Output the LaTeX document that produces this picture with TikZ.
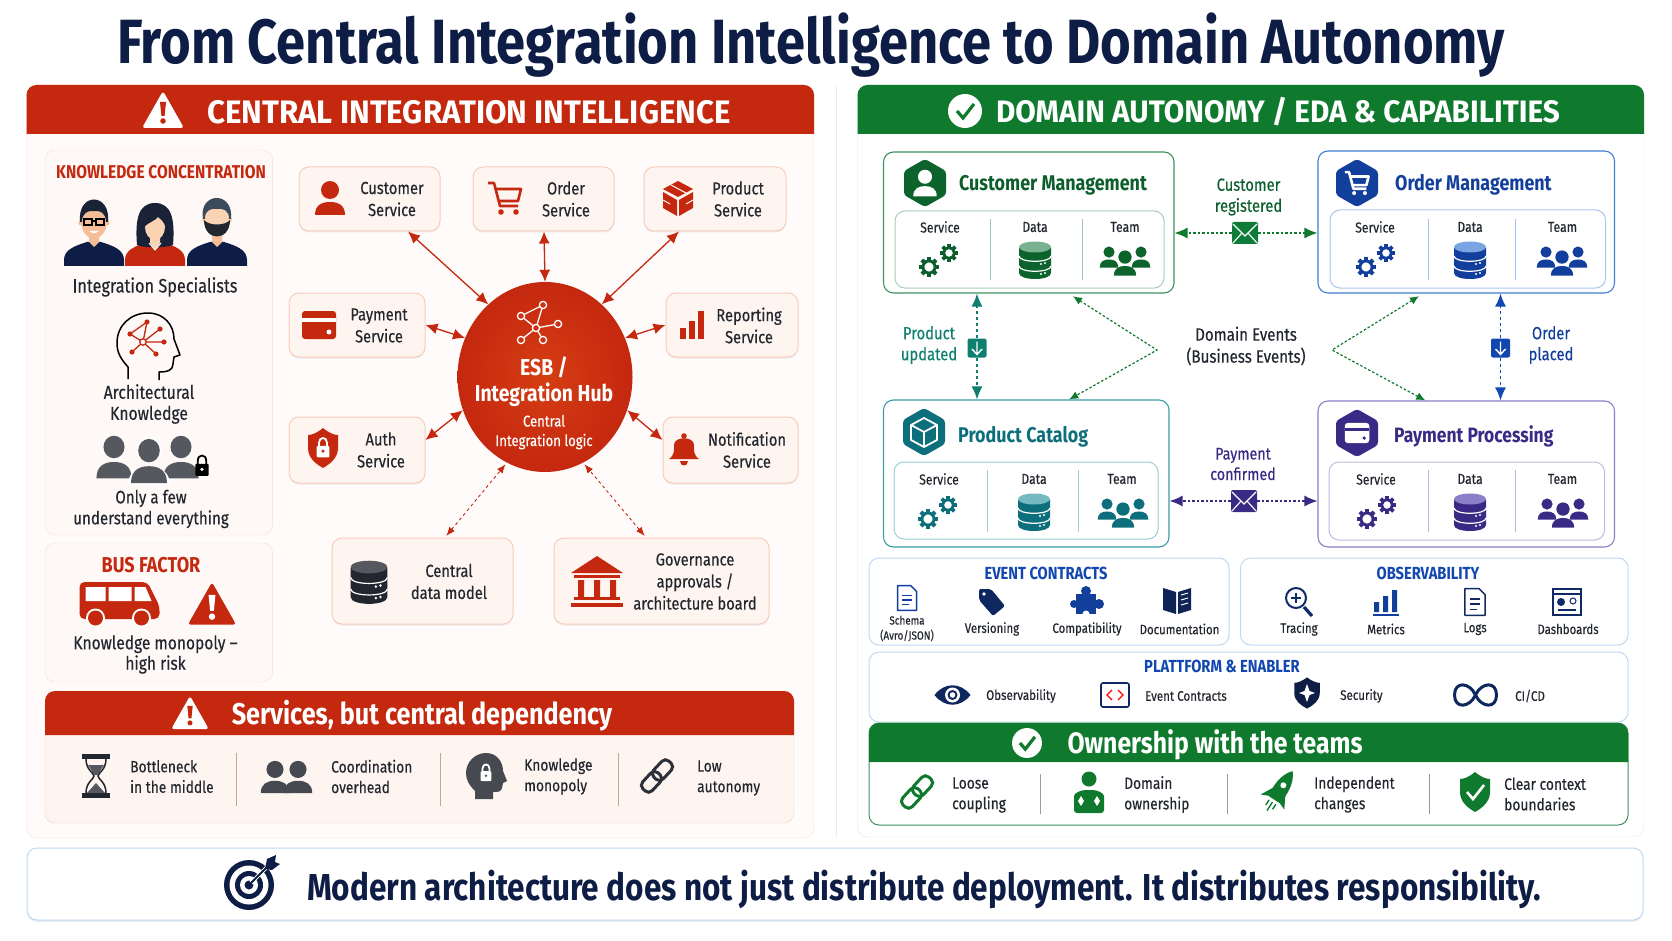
\documentclass[tikz,border=0pt]{standalone}
\usepackage{fontspec}
\setmainfont{Fira Sans}[FakeStretch=0.84, UprightFeatures={FakeBold=0.3}]
\newfontfamily\headface{Fira Sans}[FakeStretch=0.96]
\usepackage{tikz}
\usetikzlibrary{shapes.geometric, arrows.meta, positioning, calc, shadows}

\definecolor{headred}{HTML}{C4280F}
\definecolor{hubred}{HTML}{CE3216}
\definecolor{softred}{HTML}{F9CDBB}
\definecolor{tintred}{HTML}{FEF5F0}
\definecolor{headgreen}{HTML}{0F7A2E}
\definecolor{darkgreen}{HTML}{0C5F2C}
\definecolor{softgreen}{HTML}{D5ECDC}
\definecolor{cardgreen}{HTML}{3F9160}
\definecolor{cardblue}{HTML}{3F7FD6}
\definecolor{cardteal}{HTML}{3A9DA6}
\definecolor{cardpurple}{HTML}{8C7FC9}
\definecolor{deepblue}{HTML}{123E9C}
\definecolor{brightblue}{HTML}{1247B0}
\definecolor{deepteal}{HTML}{0E6F7C}
\definecolor{tealgreen}{HTML}{0F7F70}
\definecolor{deeppurple}{HTML}{3A2A86}
\definecolor{navy}{HTML}{0E1D45}
\definecolor{inkgray}{HTML}{22262E}
\definecolor{stone}{HTML}{55595F}
\definecolor{softblue}{HTML}{BFD9F2}
\definecolor{skin}{HTML}{F6BE98}
\definecolor{paleskin}{HTML}{FAD3B5}
\definecolor{hairgray}{HTML}{3C4A5C}

% Icons, drawn round (0,0) in reference pixels
\tikzset{
  warnsign/.pic={
    \fill[rounded corners=3pt] (0,-19) -- (21,18) -- (-21,18) -- cycle;
    \fill[#1] (-3,-8) -- (3,-8) -- (1.6,6) -- (-1.6,6) -- cycle;
    \fill[#1] (0,11) circle (2.8pt);},
  checkcircle/.pic={
    \fill (0,0) circle (17pt);
    \draw[#1, line width=3.2pt] (-8,0) -- (-2,7) -- (9,-7);},
  userglyph/.pic={
    \fill (0,-8) circle (9pt);
    \fill (-15,17) .. controls (-15,7) and (-8,4) .. (0,4) .. controls (8,4) and (15,7) .. (15,17) -- cycle;},
  teamgroup/.pic={
    \pic[scale=.62] at (-16,-3) {userglyph};
    \pic[scale=.62] at (16,-3) {userglyph};
    \pic[white, scale=.9] at (0,3) {userglyph};
    \pic[scale=.74] at (0,3) {userglyph};},
  gearwheel/.pic={
    \draw[line width=2.8pt] (0,0) circle (6pt);
    \foreach \a in {0,45,...,315}
      \fill[rotate=\a] (-2,-10) rectangle (2,-6);},
  gears/.pic={
    \pic at (-10,7) {gearwheel};
    \pic[scale=.9] at (10,-7) {gearwheel};},
  dbstack/.pic={
    \fill (-16,-12) -- (-16,13) .. controls (-16,21) and (16,21) .. (16,13) -- (16,-12) -- cycle;
    \fill[#1] (0,-13) ellipse (16pt and 5.5pt);
    \draw[white, line width=1.2pt] (-16,-4) .. controls (-16,3) and (16,3) .. (16,-4);
    \draw[white, line width=1.2pt] (-16,6) .. controls (-16,13) and (16,13) .. (16,6);
    \fill[white] (10,3) circle (1.2pt) (6,4) circle (1.2pt);
    \fill[white] (10,13) circle (1.2pt) (6,14) circle (1.2pt);},
  cartglyph/.pic={
    \draw[line width=2.6pt, line join=round] (-17,-15) -- (-11,-15) -- (-5,8) -- (13,8);
    \draw[line width=2.6pt, line join=round] (-10,-9) -- (16,-9) -- (13,3) -- (-7,3);
    \fill (-4,14) circle (2.8pt) (11,14) circle (2.8pt);},
  cubeglyph/.pic={
    \fill (0,-17) -- (15,-9) -- (0,-1) -- (-15,-9) -- cycle;
    \fill (-15,-6) -- (-1,2) -- (-1,18) -- (-15,10) -- cycle;
    \fill (15,-6) -- (1,2) -- (1,18) -- (15,10) -- cycle;
    \draw[white, line width=1pt] (-15,2) -- (-8,6) (15,2) -- (8,6) (-7,-13) -- (8,-5);},
  cubeline/.pic={
    \draw[line width=1.8pt, line join=round] (0,-14) -- (13,-7) -- (13,8) -- (0,15) -- (-13,8) -- (-13,-7) -- cycle;
    \draw[line width=1.8pt, line join=round] (-13,-7) -- (0,0) -- (13,-7) (0,0) -- (0,15);},
  cardglyph/.pic={
    \fill[rounded corners=3pt] (-17,-14) rectangle (17,14);
    \fill[#1] (-17,-7) rectangle (17,-3);
    \fill[#1] (10,7) circle (2.5pt);},
  barsglyph/.pic={
    \fill (-12,14) rectangle (-6,3);
    \fill (-3,14) rectangle (3,-4);
    \fill (6,14) rectangle (12,-14);},
  shieldform/.pic={
    \fill (0,-20) .. controls (-6,-15) and (-11,-13) .. (-15,-13) -- (-15,0) .. controls (-15,10) and (-7,16) .. (0,20) .. controls (7,16) and (15,10) .. (15,0) -- (15,-13) .. controls (11,-13) and (6,-15) .. (0,-20) -- cycle;},
  lockglyph/.pic={
    \fill[rounded corners=1pt] (-6,-2) rectangle (6,9);
    \draw[line width=1.8pt] (-3.8,-2) -- (-3.8,-5) .. controls (-3.8,-11) and (3.8,-11) .. (3.8,-5) -- (3.8,-2);
    \fill[#1] (0,3) circle (1.6pt);},
  bellglyph/.pic={
    \fill (0,-13) circle (2.8pt);
    \fill (-15,10) .. controls (-9,6) and (-10,0) .. (-10,-4) .. controls (-10,-13) and (10,-13) .. (10,-4) .. controls (10,0) and (9,6) .. (15,10) -- cycle;
    \fill (-4,12) .. controls (-4,18) and (4,18) .. (4,12) -- cycle;},
  templeglyph/.pic={
    \fill (0,-26) -- (26,-9) -- (-26,-9) -- cycle;
    \fill (-23,-7) rectangle (23,-4);
    \fill (-19,-2) rectangle (-13,15) (-3,-2) rectangle (3,15) (13,-2) rectangle (19,15);
    \fill (-23,15) rectangle (23,18);
    \fill (-26,21) rectangle (26,25);},
  busglyph/.pic={
    \fill[rounded corners=5pt] (-40,-22) -- (28,-22) -- (40,2) -- (40,15) -- (-40,15) -- cycle;
    \fill[white] (-34,-17) rectangle (-14,-3) (-11,-17) rectangle (12,-3);
    \fill[white] (15,-17) -- (26,-17) -- (32,-3) -- (15,-3) -- cycle;
    \fill[white] (-24,14) circle (9.5pt) (22,14) circle (9.5pt);
    \fill (-24,14) circle (7.5pt) (22,14) circle (7.5pt);},
  hourglass/.pic={
    \fill (-14,-22) rectangle (14,-17);
    \fill (-14,17) rectangle (14,22);
    \draw[line width=1.5pt] (-10,-17) .. controls (-10,-6) and (-2,-3) .. (-2,0) .. controls (-2,3) and (-10,6) .. (-10,17);
    \draw[line width=1.5pt] (10,-17) .. controls (10,-6) and (2,-3) .. (2,0) .. controls (2,3) and (10,6) .. (10,17);
    \fill[stone] (-8,-11) -- (8,-11) -- (1.5,-1) -- (-1.5,-1) -- cycle;
    \fill[stone] (-9,17) -- (0,7) -- (9,17) -- cycle;},
  headlock/.pic={
    \fill (-11,23) -- (-11,15) .. controls (-17,9) and (-20,4) .. (-20,-3) .. controls (-20,-14) and (-11,-23) .. (0,-23) .. controls (11,-23) and (17,-14) .. (17,-5) -- (21,5) -- (17,7) -- (16,12) .. controls (15,16) and (12,16) .. (7,16) -- (7,23) -- cycle;
    \pic[white, scale=.9] at (0,-3) {lockglyph=stone};},
  chainlink/.pic={
    \draw[line width=3pt, rounded corners=5pt, rotate=47] (-19,-6.5) rectangle (3,6.5);
    \draw[line width=3pt, rounded corners=5pt, rotate=47] (-3,-6.5) rectangle (19,6.5);},
  hexbadge/.pic={
    \fill[rounded corners=3pt] (0,-24) -- (21,-12) -- (21,12) -- (0,24) -- (-21,12) -- (-21,-12) -- cycle;},
  envlines/.pic={
    \draw[white, line width=1.1pt] (-12,-9) -- (0,3) -- (12,-9) (-12,10) -- (-3,0) (12,10) -- (3,0);},
  downglyph/.pic={
    \draw[white, line width=1.4pt] (0,-6.5) -- (0,6.5) (-5,1) -- (0,6.5) -- (5,1);},
  docglyph/.pic={
    \draw[line width=1.5pt, line join=round] (-10,-13) -- (4,-13) -- (10,-7) -- (10,13) -- (-10,13) -- cycle;
    \draw[line width=1.2pt] (-5,-3) -- (5,-3) (-5,2) -- (5,2) (-5,7) -- (2,7);},
  tagglyph/.pic={
    \fill[rounded corners=2pt] (-13,-13) -- (-1,-13) -- (13,4) -- (1,14) -- (-13,-2) -- cycle;
    \fill[white] (-8,-8) circle (1.8pt);},
  puzzleglyph/.pic={
    \fill (-11,-7) rectangle (9,13);
    \fill (-1,-10) circle (5pt) (12,3) circle (5pt) (-13,3) circle (4pt);
    \fill[white] (-1,13) circle (3.5pt);},
  bookglyph/.pic={
    \fill (-1,-9) -- (-14,-13) -- (-14,9) -- (-1,13) -- cycle;
    \fill (1,-9) -- (14,-13) -- (14,9) -- (1,13) -- cycle;
    \draw[white, line width=1pt] (4,-6) -- (11,-8) (4,-1) -- (11,-3) (4,4) -- (11,2);},
  lensglyph/.pic={
    \draw[line width=2pt] (-3,-4) circle (10pt);
    \draw[line width=1.6pt] (-8,-4) -- (2,-4) (-3,-9) -- (-3,1);
    \draw[line width=3.2pt] (5,5) -- (13,14);},
  metricglyph/.pic={
    \fill (-12,0) rectangle (-7,10) (-3,-6) rectangle (2,10) (6,-12) rectangle (11,10);
    \fill (-13,12) rectangle (13,14);},
  boardglyph/.pic={
    \draw[line width=1.5pt] (-14,-13) rectangle (14,13);
    \draw[line width=1.5pt] (-14,-8) -- (14,-8);
    \fill (-6,0) circle (4pt);
    \draw[line width=1pt] (6,-1) circle (3pt);
    \draw[line width=1.2pt] (-9,8) -- (9,8);},
  eyeglyph/.pic={
    \fill (-18,0) .. controls (-8,-13) and (8,-13) .. (18,0) .. controls (8,13) and (-8,13) .. (-18,0) -- cycle;
    \fill[white] (0,0) circle (7.5pt);
    \fill (0,0) circle (5pt);
    \fill[white] (0,0) circle (2.8pt);},
  codeglyph/.pic={
    \draw[line width=1.6pt, rounded corners=2pt] (-14,-12) rectangle (14,12);
    \draw[red, line width=1.2pt] (-3,-5) -- (-8,0) -- (-3,5) (3,-5) -- (8,0) -- (3,5);},
  infinity/.pic={
    \draw[line width=3pt] (0,0) .. controls (-6,-13) and (-21,-14) .. (-21,0) .. controls (-21,14) and (-6,13) .. (0,0) .. controls (6,-13) and (21,-14) .. (21,0) .. controls (21,14) and (6,13) .. (0,0) -- cycle;},
  ownerglyph/.pic={
    \fill (0,-14) circle (7.5pt);
    \fill[rounded corners=3pt] (-15,20) -- (-15,6) .. controls (-15,0) and (-8,-3) .. (0,-3) .. controls (8,-3) and (15,0) .. (15,6) -- (15,20) -- cycle;
    \fill[white] (-8,3) -- (-5,8) -- (-8,13) -- (-11,8) -- cycle;
    \fill[white] (8,3) -- (11,8) -- (8,13) -- (5,8) -- cycle;},
  rocketglyph/.pic={
    \begin{scope}[rotate=-33]
      \fill (0,-25) .. controls (9,-15) and (8,0) .. (7,9) -- (-7,9) .. controls (-8,0) and (-9,-15) .. (0,-25) -- cycle;
      \fill (-7,-1) -- (-14,12) -- (-7,9) -- cycle (7,-1) -- (14,12) -- (7,9) -- cycle;
      \fill[white] (0,-8) circle (3pt);
      \draw[line width=1.4pt] (-4,12) -- (-4,18) (0,12) -- (0,22) (4,12) -- (4,18);
    \end{scope}},
  targetglyph/.pic={
    \fill (0,0) circle (25pt);
    \fill[white] (0,0) circle (19.5pt);
    \fill (0,0) circle (14pt);
    \fill[white] (0,0) circle (9pt);
    \fill (0,0) circle (4.5pt);
    \draw[white, line width=3.6pt] (2,-2) -- (20,-20);
    \draw[line width=2pt] (0,0) -- (23,-23);
    \fill (16,-16) -- (18,-26) -- (27,-30) -- (26,-23) -- (31,-21) -- (23,-15) -- cycle;},
  hubglyph/.pic={
    \draw[line width=1.3pt] (-4,5) -- (3,-18) -- (-19,-7) -- (-4,5) -- (18,1) (-4,5) -- (-19,17) (-4,5) -- (3,17);
    \foreach \p in {(3,-18),(-19,-7),(18,1),(-19,17),(3,17),(-4,5)}
      \draw[line width=1.3pt, fill=hubred] \p circle (3.6pt);},
  brainhead/.pic={
    \draw[line width=1.5pt, line join=round] (-20,32) -- (-20,20) .. controls (-27,12) and (-31,6) .. (-31,-4) .. controls (-31,-22) and (-17,-34) .. (0,-34) .. controls (16,-34) and (26,-22) .. (26,-8) -- (32,8) -- (26,10) -- (25,17) .. controls (25,23) and (20,25) .. (11,25) -- (11,33);
    \draw[headred, line width=1.3pt] (-5,-5) -- (-1,-25) -- (-18,-13) -- (-5,-5) -- (12,-18) (-5,-5) -- (16,-5) (-5,-5) -- (-16,5) (-5,-5) -- (8,7);
    \fill[headred] (-1,-25) circle (2.6pt) (-18,-13) circle (2.6pt) (12,-18) circle (2.6pt) (16,-5) circle (2.6pt) (-16,5) circle (2.6pt) (8,7) circle (2.6pt);
    \draw[headred, line width=1.3pt, fill=white] (-5,-5) circle (3.2pt);},
  bodyform/.pic={
    \fill (-30,36) -- (-30,30) .. controls (-30,20) and (-20,16) .. (-7,12) -- (7,12) .. controls (20,16) and (30,20) .. (30,30) -- (30,36) -- cycle;},
  glassesman/.pic={
    \pic[navy] {bodyform};
    \fill[skin] (-5,3) -- (5,3) -- (5,12) -- (0,17) -- (-5,12) -- cycle;
    \fill[skin] (-13,-7) circle (2.6pt) (13,-7) circle (2.6pt);
    \fill[skin] (0,-7) ellipse (12.5pt and 15.5pt);
    \fill[inkgray!60!navy] (-14,-8) .. controls (-17,-38) and (17,-38) .. (14,-8) -- (12,-8) .. controls (12,-17) and (6,-20) .. (0,-19) .. controls (-6,-20) and (-12,-17) .. (-12,-8) -- cycle;
    \draw[black, line width=1.6pt] (-10,-11) rectangle (-2,-5) (2,-11) rectangle (10,-5) (-2,-9) -- (2,-9);
    \fill[white] (-4.5,1) .. controls (-2,4) and (2,4) .. (4.5,1) -- cycle;},
  longhairwoman/.pic={
    \pic[headred] {bodyform};
    \fill[inkgray!60!navy] (-18,15) .. controls (-20,-10) and (-17,-27) .. (0,-27) .. controls (17,-27) and (20,-10) .. (18,15) .. controls (12,18) and (-12,18) .. (-18,15) -- cycle;
    \fill[paleskin] (-5,4) -- (5,4) -- (5,13) -- (0,20) -- (-5,13) -- cycle;
    \fill[paleskin] (0,-3) ellipse (10pt and 13pt);
    \fill[inkgray!60!navy] (-11,-3) .. controls (-11,-21) and (11,-21) .. (11,-3) .. controls (8,-9) and (6,-11) .. (3,-13) .. controls (0,-9) and (-6,-8) .. (-11,-3) -- cycle;
    \draw[white, line width=1pt] (-6,13) -- (0,20) -- (6,13);},
  beardman/.pic={
    \pic[navy] {bodyform};
    \fill[skin] (-5,3) -- (5,3) -- (5,12) -- (0,17) -- (-5,12) -- cycle;
    \fill[paleskin] (-13,-10) circle (2.4pt) (13,-10) circle (2.4pt);
    \fill[paleskin] (0,-9) ellipse (12pt and 15pt);
    \fill[hairgray] (-14,-11) .. controls (-19,-38) and (17,-40) .. (14,-11) -- (12,-11) .. controls (12,-20) and (6,-22) .. (0,-21) .. controls (-6,-22) and (-12,-20) .. (-12,-11) -- cycle;
    \fill[inkgray] (-13,-10) .. controls (-13,12) and (13,12) .. (13,-10) .. controls (8,-4) and (-8,-4) .. (-13,-10) -- cycle;},
}

\begin{document}
\begin{tikzpicture}[
    x=1pt, y=-1pt,
    txt/.style={inner sep=0pt, text=inkgray, align=center, font=\fontsize{17.5}{22}\selectfont},
    panel/.style={rectangle, draw, rounded corners=10pt, inner sep=0pt},
    leftbox/.style={panel, draw=softred!70, fill=tintred!60},
    svcbox/.style={panel, draw=softred, line width=1pt, fill=tintred, drop shadow={opacity=.14, shadow xshift=0pt, shadow yshift=-1.5pt}},
    card/.style={panel, line width=1.1pt, fill=white},
    cell/.style={panel, line width=1pt, fill=white},
    celltxt/.style={txt, font=\fontsize{14.5}{17}\selectfont},
    bluebox/.style={panel, draw=softblue, line width=1pt, fill=white},
    bluehead/.style={txt, text=brightblue, font=\bfseries\fontsize{17.5}{20}\selectfont},
    smalltxt/.style={txt, font=\fontsize{13.6}{15}\selectfont},
    tinytxt/.style={txt, font=\fontsize{13.8}{15}\selectfont},
    itemtxt/.style={txt, align=left, anchor=west, font=\fontsize{16.4}{20.5}\selectfont},
    cardhead/.style={txt, anchor=west, font=\bfseries\fontsize{21.3}{26}\selectfont},
    eventtxt/.style={txt, font=\fontsize{17.6}{21}\selectfont},
    tile/.style={rectangle, rounded corners=2pt, inner sep=0pt},
    hubarrow/.style={>={Latex[length=12pt, width=11pt]}, <->, headred, line width=1.3pt},
    hubdash/.style={>={Latex[length=9pt, width=7pt]}, <->, headred, dashed, line width=.9pt, shorten <=2pt, shorten >=2pt},
    evarrow/.style={>={Latex[length=13pt, width=11pt]}, ->, line width=1.4pt, dash pattern=on 2.5pt off 2pt},
    evboth/.style={>={Latex[length=9pt, width=8pt]}, <->, line width=1.2pt, dash pattern=on 2.5pt off 2pt, headgreen, shorten <=5pt}
]
    \useasboundingbox (0,0) rectangle (1672,941);
    \fill[white] (0,0) rectangle (1672,941);

    % Title
    \node[txt, text=navy, font=\bfseries\fontsize{62.5}{68}\selectfont] (title) at (811,45) {From Central Integration Intelligence to Domain Autonomy};

    % Left side
    \node[leftbox, fill=tintred!35, minimum width=787.5pt, minimum height=753pt] (leftpanel) at (420.25,461.5) {};
    \fill[headred] (26.5,134) [rounded corners=10pt] -- (26.5,85) -- (814,85) [sharp corners] -- (814,134) -- cycle;
    \pic[white] at (163,110) {warnsign=headred};
    \node[txt, text=white, font=\headface\bfseries\fontsize{32.5}{36}\selectfont] (lefthead) at (469,112) {CENTRAL INTEGRATION INTELLIGENCE};

    % Knowledge concentration
    \node[leftbox, minimum width=227.6pt, minimum height=385pt] (knowbox) at (158.8,342.5) {};
    \node[txt, text=headred, font=\bfseries\fontsize{18.5}{21}\selectfont] (knowhead) at (161,172) {KNOWLEDGE CONCENTRATION};
    \pic at (94,230) {glassesman};
    \pic at (155,230) {longhairwoman};
    \pic at (217,230) {beardman};
    \node[txt, font=\fontsize{19.4}{22}\selectfont] (specialists) at (155,287) {Integration Specialists};
    \pic at (148,347) {brainhead};
    \node[txt, font=\fontsize{18.7}{21}\selectfont] (archknow) at (149,404) {Architectural\\Knowledge};
    \pic[stone, xscale=1.17, yscale=1.25] at (114,457) {userglyph};
    \pic[stone, xscale=1.17, yscale=1.25] at (181,457) {userglyph};
    \pic[white, xscale=1.4, yscale=1.45] at (149,461) {userglyph};
    \pic[stone, xscale=1.2, yscale=1.3] at (149,461) {userglyph};
    \pic[black, scale=1.1] at (202,466) {lockglyph=white};
    \node[txt, font=\fontsize{18}{21}\selectfont] (fewlbl) at (151,509) {Only a few\\understand everything};

    % Bus factor
    \node[leftbox, minimum width=227.6pt, minimum height=139pt] (busbox) at (158.8,612.5) {};
    \node[txt, text=headred, font=\bfseries\fontsize{21.5}{24}\selectfont] (bushead) at (151,565) {BUS FACTOR};
    \pic[headred] at (119.5,604) {busglyph};
    \pic[headred, scale=1.15] at (212,604) {warnsign=white};
    \node[txt, font=\fontsize{18.5}{20.5}\selectfont] (buslbl) at (155.5,654.5) {Knowledge monopoly --\\high risk};

    % Hub and services
    \node[ellipse, inner sep=0pt, minimum width=175pt, minimum height=190pt, inner color=hubred!85!orange, outer color=headred] (hub) at (545,377) {};
    \pic[white] at (540,323) {hubglyph};
    \node[txt, text=white, font=\bfseries\fontsize{23}{26}\selectfont] (hubname) at (544,381.5) {ESB /\\Integration Hub};
    \node[txt, text=white, font=\fontsize{15.6}{19.5}\selectfont, below=8pt of hubname] (hubnote) {Central\\Integration logic};

    \node[svcbox, minimum width=141pt, minimum height=64pt] (custsvc) at (369.5,199) {};
    \node[svcbox, minimum width=141pt, minimum height=64pt] (ordersvc) at (543.5,199) {};
    \node[svcbox, minimum width=142pt, minimum height=64pt] (prodsvc) at (715,199) {};
    \node[svcbox, minimum width=136pt, minimum height=64pt] (paysvc) at (357,325) {};
    \node[svcbox, minimum width=132pt, minimum height=64pt] (repsvc) at (732,325) {};
    \node[svcbox, minimum width=136pt, minimum height=66pt] (authsvc) at (357,450) {};
    \node[svcbox, minimum width=135pt, minimum height=66pt] (notifsvc) at (730.5,450) {};
    \node[svcbox, minimum width=181pt, minimum height=86pt] (datasvc) at (422.5,581) {};
    \node[svcbox, minimum width=215pt, minimum height=86pt] (govsvc) at (661.5,581) {};

    \pic[headred] at (330,198) {userglyph};
    \node[txt] (custlbl) at (392,199) {Customer\\Service};
    \pic[headred] at (505,198) {cartglyph};
    \node[txt] (orderlbl) at (566,199) {Order\\Service};
    \pic[headred] at (678,198) {cubeglyph};
    \node[txt] (prodlbl) at (738,199) {Product\\Service};
    \pic[headred] at (319,325) {cardglyph=white};
    \node[txt] (paylbl) at (379,325.5) {Payment\\Service};
    \pic[headred] at (692,325) {barsglyph};
    \node[txt] (replbl) at (749,325.5) {Reporting\\Service};
    \pic[headred] at (323,448) {shieldform};
    \pic[white, scale=1.05] at (323,448) {lockglyph=headred};
    \node[txt] (authlbl) at (381,450) {Auth\\Service};
    \pic[headred] at (684,449) {bellglyph};
    \node[txt] (notiflbl) at (747,450) {Notification\\Service};
    \pic[inkgray, scale=1.15] at (369,582) {dbstack=stone};
    \node[txt] (datalbl) at (449,581.5) {Central\\data model};
    \pic[headred] at (597,582) {templeglyph};
    \node[txt] (govlbl) at (695,581.5) {Governance\\approvals /\\architecture board};

    \draw[hubarrow] ([xshift=38.5pt]custsvc.south) -- (hub.128);
    \draw[hubarrow] ([xshift=.5pt]ordersvc.south) -- (hub.90);
    \draw[hubarrow] ([xshift=-36pt]prodsvc.south) -- (hub.52);
    \draw[hubarrow] (paysvc.east) -- (hub.154);
    \draw[hubarrow] (repsvc.west) -- (hub.26);
    \draw[hubarrow] ([yshift=10pt]authsvc.east) -- (hub.202);
    \draw[hubarrow] ([yshift=10pt]notifsvc.west) -- (hub.338);
    \draw[hubdash] ([xshift=22.5pt]datasvc.north) -- (hub.246);
    \draw[hubdash] ([xshift=-15.5pt]govsvc.north) -- (hub.294);

    % Central dependency
    \node[panel, draw=softred, fill=tintred, minimum width=749pt, minimum height=132pt] (depbox) at (419.5,757) {};
    \fill[headred] (45,735) [rounded corners=10pt] -- (45,691) -- (794,691) [sharp corners] -- (794,735) -- cycle;
    \pic[white, scale=.9] at (190,713) {warnsign=headred};
    \node[txt, text=white, font=\bfseries\fontsize{30}{33}\selectfont] (dephead) at (422,716) {Services, but central dependency};
    \pic[inkgray] at (96,776) {hourglass};
    \node[itemtxt] (bottlelbl) at (130,776.5) {Bottleneck\\in the middle};
    \draw[softred!80!black, line width=.8pt] (236,753) -- (236,806);
    \pic[stone!70!inkgray, scale=.95] at (275,777) {userglyph};
    \pic[stone!70!inkgray, scale=.95] at (298,777) {userglyph};
    \node[itemtxt] (coordlbl) at (331,776.5) {Coordination\\overhead};
    \draw[softred!80!black, line width=.8pt] (440,753) -- (440,806);
    \pic[stone!70!inkgray] at (486,776) {headlock};
    \node[itemtxt] (monolbl) at (524,776.5) {Knowledge\\monopoly};
    \draw[softred!80!black, line width=.8pt] (618,753) -- (618,806);
    \pic[inkgray!80!stone] at (657,776) {chainlink};
    \node[itemtxt] (lowlbl) at (697,778) {Low\\autonomy};

    % Divider
    \draw[softblue!45, line width=.8pt] (836,85) -- (836,837);

    % Right side
    \node[panel, draw=softgreen, fill=white, minimum width=786.5pt, minimum height=752pt] (rightpanel) at (1250.75,461) {};
    \fill[headgreen] (857.5,134) [rounded corners=10pt] -- (857.5,85) -- (1644,85) [sharp corners] -- (1644,134) -- cycle;
    \pic[white] at (965,111) {checkcircle=headgreen};
    \node[txt, text=white, font=\headface\bfseries\fontsize{31}{36}\selectfont] (righthead) at (1278,112) {DOMAIN AUTONOMY / EDA \& CAPABILITIES};

    % Customer card
    \node[card, draw=cardgreen, minimum width=290.5pt, minimum height=141pt] (custcard) at (1028.75,222.5) {};
    \pic[darkgreen!80!headgreen] at (925,183) {hexbadge};
    \pic[white, scale=.78] at (925,183) {userglyph};
    \node[cardhead, text=darkgreen] (custhead) at (959,185) {Customer Management};
    \node[cell, draw=cardgreen!45, minimum width=269pt, minimum height=77pt] (custcell) at (1029.5,249.5) {};
    \draw[cardgreen!50] (990,219) -- (990,280) (1082,219) -- (1082,280);
    \node[celltxt] (custa) at (940,227) {Service};
    \node[celltxt] (custb) at (1035,227) {Data};
    \node[celltxt] (custc) at (1125,227) {Team};
    \pic[darkgreen] at (939,260) {gears};
    \pic[darkgreen!85!headgreen] at (1035,260) {dbstack=cardgreen!70};
    \pic[darkgreen!85!headgreen] at (1125,260) {teamgroup};

    % Order card
    \node[card, draw=cardblue, minimum width=296.5pt, minimum height=142pt] (ordercard) at (1466.25,222) {};
    \pic[deepblue] at (1357,183) {hexbadge};
    \pic[white, scale=.72] at (1357,183) {cartglyph};
    \node[cardhead, text=deepblue] (orderhead) at (1395,185) {Order Management};
    \node[cell, draw=cardblue!45, minimum width=275.5pt, minimum height=78pt] (ordercell) at (1467.75,249) {};
    \draw[cardblue!50] (1428,219) -- (1428,280) (1515,219) -- (1515,280);
    \node[celltxt] (ordera) at (1375,227) {Service};
    \node[celltxt] (orderb) at (1470,227) {Data};
    \node[celltxt] (orderc) at (1562.5,227) {Team};
    \pic[deepblue] at (1376,260) {gears};
    \pic[deepblue] at (1470,260) {dbstack=cardblue!70};
    \pic[deepblue] at (1562,260) {teamgroup};

    % Catalog card
    \node[card, draw=cardteal, minimum width=285.5pt, minimum height=147pt] (prodcard) at (1026.25,473.5) {};
    \pic[deepteal] at (924,432) {hexbadge};
    \pic[white] at (924,432) {cubeline};
    \node[cardhead, text=deepteal] (prodhead) at (958,437) {Product Catalog};
    \node[cell, draw=cardteal!50, minimum width=264pt, minimum height=77pt] (prodcell) at (1026,500.5) {};
    \draw[cardteal!50] (987.5,470) -- (987.5,532) (1078,470) -- (1078,532);
    \node[celltxt] (proda) at (939,479) {Service};
    \node[celltxt] (prodb) at (1034,479) {Data};
    \node[celltxt] (prodc) at (1122,479) {Team};
    \pic[deepteal] at (938,512) {gears};
    \pic[deepteal] at (1034,512) {dbstack=cardteal!70};
    \pic[deepteal] at (1123,512) {teamgroup};

    % Payment card
    \node[card, draw=cardpurple, minimum width=296.5pt, minimum height=146pt] (paycard) at (1466.25,474) {};
    \pic[deeppurple] at (1357,433) {hexbadge};
    \pic[white, scale=.72] at (1357,433) {cardglyph=deeppurple};
    \node[cardhead, text=deeppurple, font=\bfseries\fontsize{20.8}{26}\selectfont] (payhead) at (1394,436) {Payment Processing};
    \node[cell, draw=cardpurple!55, minimum width=275.5pt, minimum height=78pt] (paycell) at (1466.75,501) {};
    \draw[cardpurple!60] (1428,470) -- (1428,532) (1515,470) -- (1515,532);
    \node[celltxt] (paya) at (1376,479) {Service};
    \node[celltxt] (payb) at (1470,479) {Data};
    \node[celltxt] (payc) at (1562.5,479) {Team};
    \pic[deeppurple] at (1377,512) {gears};
    \pic[deeppurple] at (1470,512) {dbstack=cardpurple};
    \pic[deeppurple] at (1563,512) {teamgroup};

    % Domain events
    \node[tile, fill=headgreen!85!tealgreen, minimum width=26pt, minimum height=22pt] (envcust) at (1245,233) {};
    \pic at (1245,233) {envlines};
    \node[eventtxt, text=darkgreen] (custevent) at (1248.5,197) {Customer\\registered};
    \draw[evarrow, headgreen] (envcust.west) -- (envcust.west -| custcard.east);
    \draw[evarrow, headgreen] (envcust.east) -- (envcust.east -| ordercard.west);

    \node[tile, fill=tealgreen, minimum width=19pt, minimum height=19pt] (updtile) at (977,348) {};
    \pic at (977,348) {downglyph};
    \node[eventtxt, text=tealgreen] (updevent) at (929,345) {Product\\updated};
    \draw[evarrow, tealgreen, dashed] (updtile.north) -- (updtile.north |- custcard.south);
    \draw[evarrow, tealgreen, dashed] (updtile.south) -- (updtile.south |- prodcard.north);

    \node[tile, fill=brightblue, minimum width=19pt, minimum height=19pt] (plctile) at (1500.5,348) {};
    \pic at (1500.5,348) {downglyph};
    \node[eventtxt, text=deepblue] (plcevent) at (1551,345) {Order\\placed};
    \draw[evarrow, brightblue, dashed] (plctile.north) -- (plctile.north |- ordercard.south);
    \draw[evarrow, brightblue, dashed] (plctile.south) -- (plctile.south |- paycard.north);

    \node[txt, font=\fontsize{18}{22}\selectfont] (evnote) at (1246,346) {Domain Events\\(Business Events)};
    \coordinate (evleft) at (1157,350);
    \coordinate (evright) at (1332,350);
    \draw[evboth] ([xshift=40pt]custcard.south) -- (evleft) -- ([xshift=43pt]prodcard.north);
    \draw[evboth] ([xshift=-43pt]ordercard.south) -- (evright) -- ([xshift=-41pt]paycard.north);

    \node[tile, fill=deeppurple, minimum width=26pt, minimum height=22pt] (envpay) at (1244,501) {};
    \pic at (1244,501) {envlines};
    \node[eventtxt, text=deeppurple, font=\fontsize{17}{20.5}\selectfont] (payevent) at (1243,464) {Payment\\confirmed};
    \draw[evarrow, deeppurple] (envpay.west) -- (envpay.west -| prodcard.east);
    \draw[evarrow, deeppurple] (envpay.east) -- (envpay.east -| paycard.west);

    % Event contracts
    \node[bluebox, minimum width=360pt, minimum height=87pt] (contractbox) at (1049,601.5) {};
    \node[bluehead] (contracthead) at (1046,573) {EVENT CONTRACTS};
    \pic[deepblue, scale=.95] at (907,598) {docglyph};
    \node[txt, font=\fontsize{11.8}{15}\selectfont] (schemalbl) at (907,628.5) {Schema\\(Avro/JSON)};
    \pic[navy!70!deepblue] at (992,602) {tagglyph};
    \node[smalltxt] (verlbl) at (992,629) {Versioning};
    \pic[deepblue] at (1087,601) {puzzleglyph};
    \node[smalltxt] (complbl) at (1087,629) {Compatibility};
    \pic[navy!80!deepblue] at (1177,601) {bookglyph};
    \node[smalltxt] (doclbl) at (1179.5,629) {Documentation};

    % Observability
    \node[bluebox, minimum width=387.5pt, minimum height=87pt] (obsbox) at (1434.25,601.5) {};
    \node[bluehead] (obshead) at (1428,573) {OBSERVABILITY};
    \pic[navy!60!deepblue] at (1299,602) {lensglyph};
    \node[smalltxt] (tracelbl) at (1299,629) {Tracing};
    \pic[deepblue] at (1386,602) {metricglyph};
    \node[smalltxt] (metriclbl) at (1386,629) {Metrics};
    \pic[navy!60!deepblue, scale=1.02] at (1475,602) {docglyph};
    \node[smalltxt] (loglbl) at (1475,629) {Logs};
    \pic[navy!60!deepblue] at (1567,602) {boardglyph};
    \node[smalltxt] (dashlbl) at (1568,629) {Dashboards};

    % Platform
    \node[bluebox, minimum width=759pt, minimum height=70pt] (platbox) at (1248.5,687) {};
    \node[bluehead] (plathead) at (1222,666) {PLATTFORM \& ENABLER};
    \pic[navy!70!deepblue] at (952.5,695) {eyeglyph};
    \node[tinytxt, anchor=west] (eyelbl) at (986,696) {Observability};
    \pic[navy!70!deepblue] at (1115,695) {codeglyph};
    \node[tinytxt, anchor=west] (codelbl) at (1145,696) {Event Contracts};
    \pic[navy, xscale=.85, yscale=.78] at (1307,693) {shieldform};
    \fill[white] (1307,684) -- (1309.5,691) -- (1315,693) -- (1309.5,695) -- (1307,702) -- (1304.5,695) -- (1299,693) -- (1304.5,691) -- cycle;
    \node[tinytxt, anchor=west] (seclbl) at (1340,696) {Security};
    \pic[navy!70!deepblue] at (1475.5,695) {infinity};
    \node[tinytxt, anchor=west] (cdlbl) at (1515,696) {CI/CD};

    % Ownership
    \node[panel, draw=cardgreen, line width=1pt, fill=white, minimum width=759pt, minimum height=102pt] (ownbox) at (1248.5,774) {};
    \fill[headgreen] (869,762) [rounded corners=10pt] -- (869,723) -- (1628,723) [sharp corners] -- (1628,762) -- cycle;
    \pic[white, scale=.88] at (1027,743) {checkcircle=headgreen};
    \node[txt, text=white, font=\bfseries\fontsize{29.5}{33}\selectfont] (ownhead) at (1215,745) {Ownership with the teams};
    \pic[headgreen] at (917,792) {chainlink};
    \node[itemtxt] (looselbl) at (952,795) {Loose\\coupling};
    \draw[stone!60, line width=.8pt] (1040.5,774) -- (1040.5,814);
    \pic[headgreen] at (1089,793) {ownerglyph};
    \node[itemtxt] (domainlbl) at (1124,794.5) {Domain\\ownership};
    \draw[stone!60, line width=.8pt] (1227,774) -- (1227,814);
    \pic[headgreen] at (1279,792) {rocketglyph};
    \node[itemtxt] (indeplbl) at (1314,794.5) {Independent\\changes};
    \draw[stone!60, line width=.8pt] (1429,774) -- (1429,814);
    \pic[headgreen] at (1475,792) {shieldform};
    \draw[white, line width=2.6pt] (1467,792) -- (1473,799) -- (1484,785);
    \node[itemtxt] (clearlbl) at (1504,794) {Clear context\\boundaries};

    % Takeaway
    \node[panel, draw=softblue, fill=white, line width=1pt, minimum width=1616pt, minimum height=72pt, drop shadow={opacity=.15, shadow xshift=0pt, shadow yshift=-2pt}] (takeaway) at (835,884) {};
    \pic[navy] at (249,885) {targetglyph};
    \node[txt, anchor=west, text=navy, font=\bfseries\fontsize{37.5}{42}\selectfont] (takelbl) at (307,889) {Modern architecture does not just distribute deployment. It distributes responsibility.};
\end{tikzpicture}
\end{document}
